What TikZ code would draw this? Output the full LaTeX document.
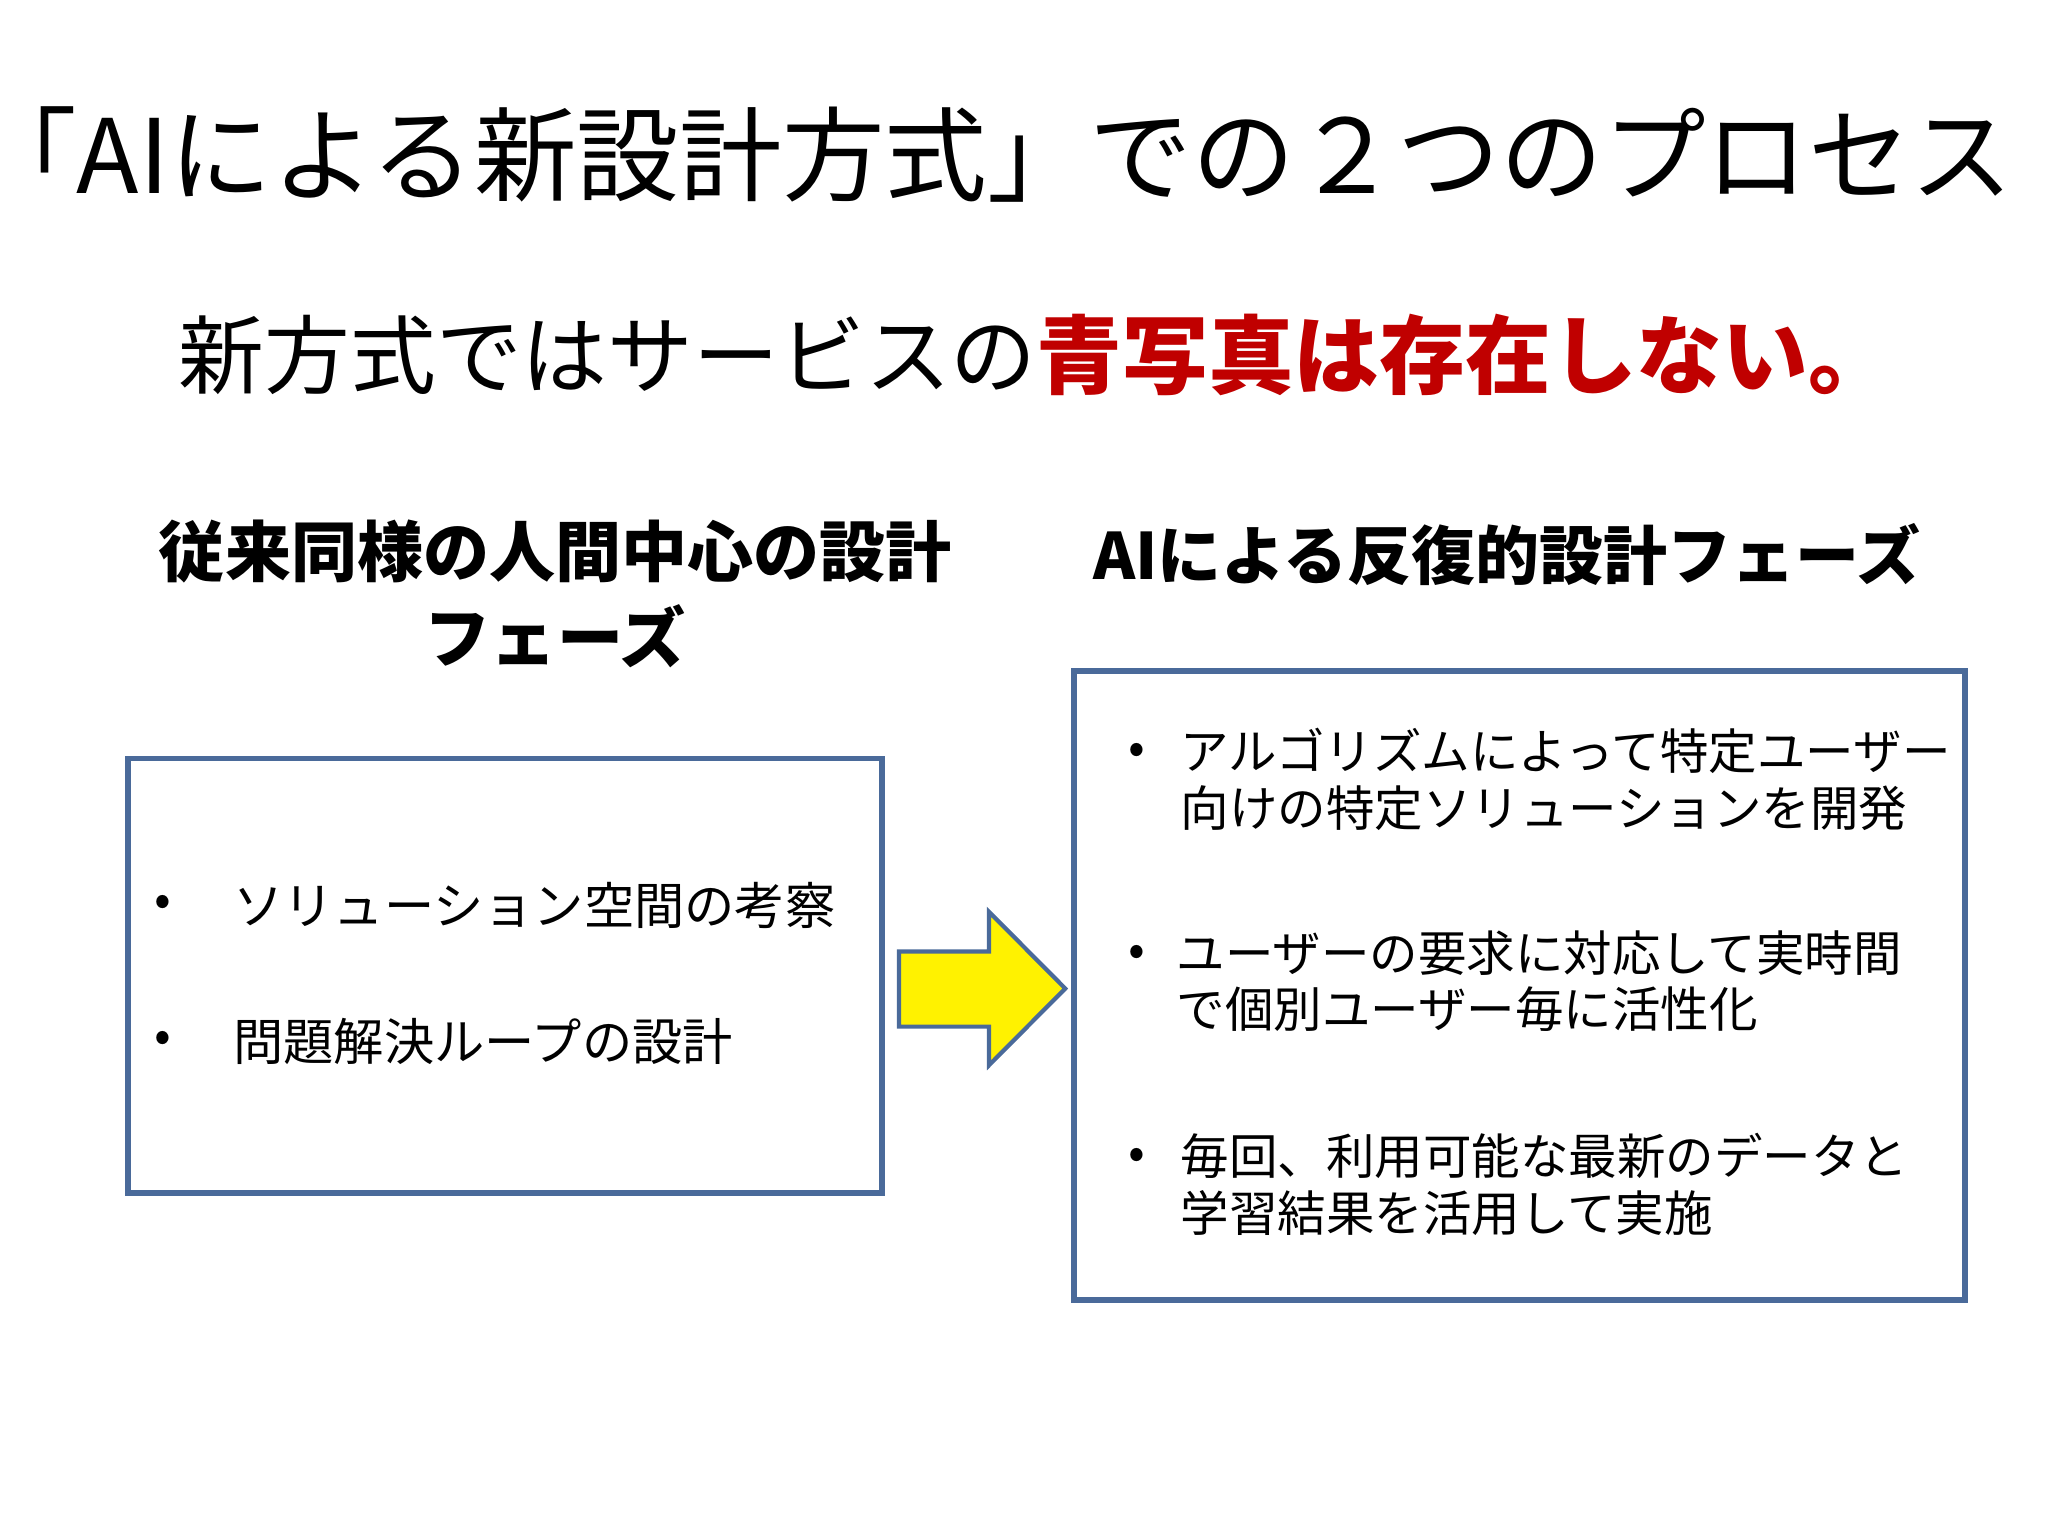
\documentclass[tikz,border=0pt]{standalone}
\usepackage{fontspec}
\setmainfont{Noto Sans CJK JP}
\definecolor{boxline}{HTML}{4A6A9A}
\definecolor{redtxt}{HTML}{C00000}
\tikzset{
  panel/.style={draw=boxline,line width=1.6pt},
  item/.style={anchor=west,inner sep=0pt,font=\fontsize{14.3}{17}\selectfont},
  ritem/.style={anchor=north west,align=left,inner sep=0pt,font=\fontsize{13.8}{16.6}\selectfont},
  dot/.style={anchor=center,inner sep=0pt,font=\fontsize{14}{17}\selectfont},
  head/.style={inner sep=0pt,font=\bfseries\fontsize{18.8}{23}\selectfont,align=center}
}
\begin{document}
\begin{tikzpicture}
\useasboundingbox (0,0) rectangle (20.48,-15.36);
\begin{scope}[scale=0.99]
\node[inner sep=0pt,font=\fontsize{29.2}{33}\selectfont] (title) at (10.04,-1.56) {「AIによる新設計方式」での２つのプロセス};
\node[inner sep=0pt,font=\fontsize{24.4}{28}\selectfont] (sub) at (10.47,-3.59) {新方式ではサービスの\textcolor{redtxt}{\bfseries 青写真は存在しない。}};
\node[head] (lh) at (5.61,-6.0) {従来同様の人間中心の設計\\[0.05cm]フェーズ};
\node[head,font=\bfseries\fontsize{18.2}{22}\selectfont] (rh) at (15.22,-5.6) {AIによる反復的設計フェーズ};
\draw[panel] (1.29,-7.66) rectangle (8.91,-12.05);
\draw[panel] (10.85,-6.78) rectangle (19.85,-13.13);
\draw[draw=boxline,fill=yellow,line width=1.2pt] (9.08,-9.61) -- (9.99,-9.61) -- (9.99,-9.21) -- (10.76,-9.985) -- (9.99,-10.76) -- (9.99,-10.37) -- (9.08,-10.37) -- cycle;
\node[dot] (b1) at (1.65,-9.15) {•};
\node[item] (t1) at (2.35,-9.15) {ソリューション空間の考察};
\node[dot] (b2) at (1.65,-10.52) {•};
\node[item] (t2) at (2.35,-10.52) {問題解決ループの設計};
\node[dot] (r1) at (11.48,-7.62) {•};
\node[ritem] (s1) at (11.92,-7.35) {アルゴリズムによって特定ユーザー\\[-0.5pt]向けの特定ソリューションを開発};
\node[dot] (r2) at (11.48,-9.66) {•};
\node[ritem] (s2) at (11.88,-9.39) {ユーザーの要求に対応して実時間\\[-0.5pt]で個別ユーザー毎に活性化};
\node[dot] (r3) at (11.48,-11.71) {•};
\node[ritem] (s3) at (11.92,-11.44) {毎回、利用可能な最新のデータと\\[-0.5pt]学習結果を活用して実施};
\end{scope}
\end{tikzpicture}
\end{document}
